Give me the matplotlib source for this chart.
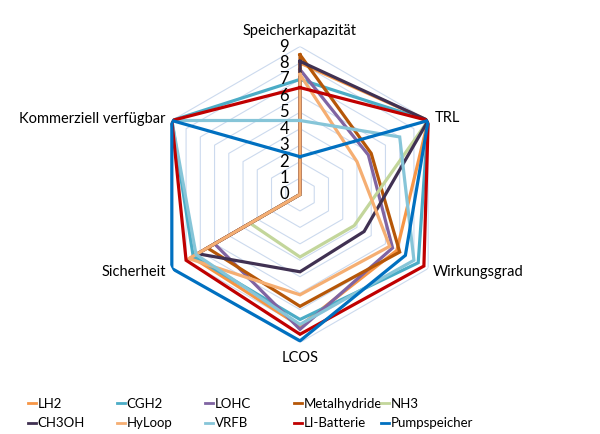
import numpy as np
import matplotlib
matplotlib.use("Agg")
import matplotlib.pyplot as plt
from matplotlib.lines import Line2D

plt.rcParams['font.family'] = ['Lato', 'DejaVu Sans']

categories = ["Speicherkapazität", "TRL", "Wirkungsgrad", "LCOS", "Sicherheit", "Kommerziell verfügbar"]
series_names = ["LH2", "CGH2", "LOHC", "Metalhydride", "NH3",
                "CH3OH", "HyLoop", "VRFB", "LI-Batterie", "Pumpspeicher"]
colors = ["#F79646", "#4BACC6", "#8064A2", "#B65708", "#C3D69B",
          "#403152", "#F5AE72", "#86C5D8", "#C00000", "#0070C0"]

# values per series, in category order
lh2 = [8.0, 9, 6.8, 8.0, 7.6, 0]
cgh2 = [7.0, 9, 8.3, 7.6, 7.5, 9]
lohc = [7.6, 4.8, 6.5, 8.2, 6.0, 0]
metalhydride = [8.5, 5.0, 7.0, 6.8, 6.5, 0]
nh3 = [np.nan, 9, 3.8, 3.8, 3.5, 0]
ch3oh = [8.1, 9, 4.5, 4.7, 7.2, 0]
hyloop = [7.3, 4.0, 6.3, 6.1, 7.8, 0]
vrfb = [4.5, 7.0, 8.0, 7.9, 7.3, 9]
li_batterie = [6.5, 9, 8.7, 8.5, 8.0, 9]
pumpspeicher = [2.3, 9, 7.4, 8.9, 9, 9]
all_values = [lh2, cgh2, lohc, metalhydride, nh3, ch3oh, hyloop, vrfb, li_batterie, pumpspeicher]
rticks = list(range(0, 10))

W, H = 600, 434
fig = plt.figure(figsize=(6, 4.34), dpi=100)
cx, cy, R = 300, 194.5, 148
ax = fig.add_axes([(cx - R) / W, (H - cy - R) / H, 2 * R / W, 2 * R / H], projection='polar')
ax.set_theta_offset(np.pi / 2)
ax.set_theta_direction(-1)
ax.set_ylim(0, 9)
ax.grid(False)
ax.set_xticks([])
ax.set_yticks([])
ax.spines['polar'].set_visible(False)
ax.patch.set_alpha(0)

n = len(categories)
angles = np.linspace(0, 2 * np.pi, n, endpoint=False)
closed = np.append(angles, angles[0])

# hexagon grid
for r in rticks[1:]:
    ax.plot(closed, [r] * (n + 1), color="#CCDAEE", lw=0.8, zorder=1)

for name, vals, col in zip(series_names, all_values, colors):
    ax.plot(closed, vals + vals[:1], color=col, lw=2.3, label=name, zorder=3,
            solid_joinstyle='miter')

# radial labels
for r in rticks:
    ax.annotate(str(r), xy=(0, r), xytext=(-11, 0), textcoords='offset pixels',
                ha='right', va='center', fontsize=12)

# category labels
offsets = [(0, 16, 'center'), (7, 2, 'left'), (5, -4, 'left'),
           (0, -15, 'center'), (-6, -4, 'right'), (-6, 2, 'right')]
for a, lab, (dx, dy, ha) in zip(angles, categories, offsets):
    ax.annotate(lab, xy=(a, 9), xytext=(dx, dy), textcoords='offset pixels',
                ha=ha, va='center', fontsize=10.5)

# legend, one legend per column to keep even spacing
col_x = [28, 117, 205, 294, 381]
for i, x in enumerate(col_x):
    idx = [i, i + 5]
    handles = [Line2D([], [], color=colors[k], lw=2) for k in idx]
    labels = [series_names[k] for k in idx]
    fig.legend(handles, labels, loc='upper left', bbox_to_anchor=(x / W, 1 - 398 / H),
               frameon=False, fontsize=9.5, handlelength=0.6, handletextpad=0.12,
               labelspacing=0.55, borderaxespad=0, borderpad=0)

fig.savefig("out.png", dpi=100)
